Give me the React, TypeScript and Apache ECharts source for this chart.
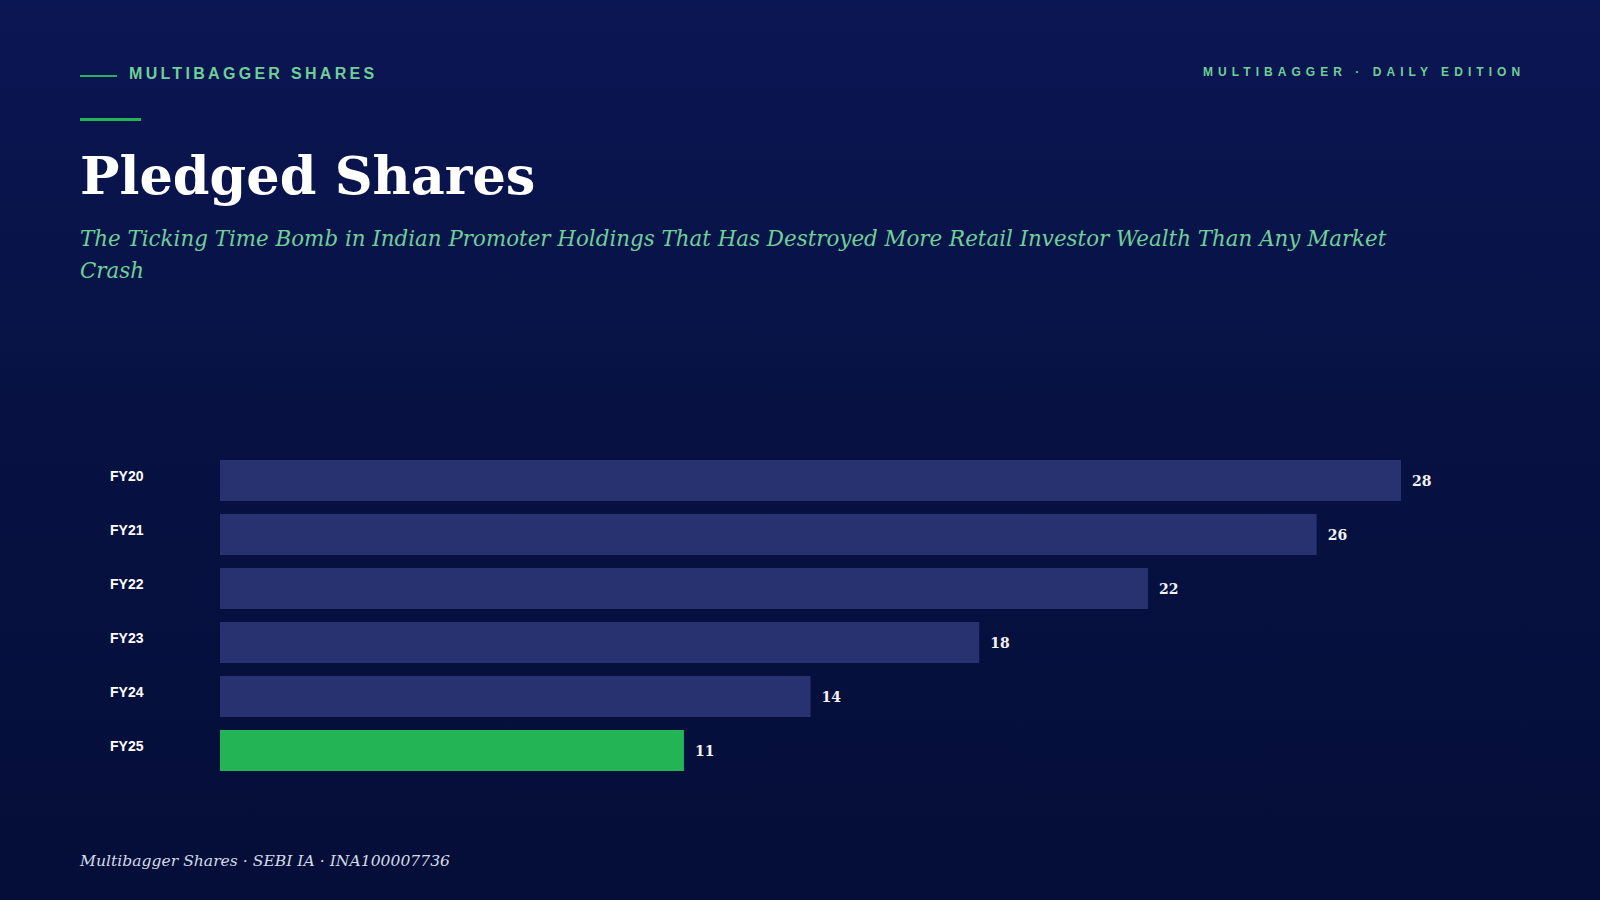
import React, { useEffect, useRef } from "react";
import * as echarts from "echarts";

const categories = ["FY20", "FY21", "FY22", "FY23", "FY24", "FY25"];
const pledgedValues = [28, 26, 22, 18, 14, 11];
const highlightCategory = "FY25";

const kickerText = "MULTIBAGGER SHARES";
const editionText = "MULTIBAGGER · DAILY EDITION";
const titleText = "Pledged Shares";
const subtitleText =
  "The Ticking Time Bomb in Indian Promoter Holdings That Has Destroyed More Retail Investor Wealth Than Any Market Crash";
const footerText = "Multibagger Shares · SEBI IA · INA100007736";

const SERIF = "'DejaVu Serif', Georgia, serif";
const SANS = "'Liberation Sans', Arial, Helvetica, sans-serif";

export default function App() {
  const ref = useRef<HTMLDivElement>(null);

  useEffect(() => {
    if (!ref.current) return;
    const chart = echarts.init(ref.current, null, { renderer: "svg", width: 1600, height: 900 });
    chart.setOption({
      animation: false,
      grid: { left: 220, top: 453.5, width: 1181, height: 324, containLabel: false },
      xAxis: { type: "value", min: 0, max: "dataMax", show: false },
      yAxis: {
        type: "category",
        data: categories,
        inverse: true,
        axisLine: { show: false },
        axisTick: { show: false },
        splitLine: { show: false },
        axisLabel: {
          align: "left",
          verticalAlign: "bottom",
          lineHeight: 10,
          margin: 110,
          color: "#ffffff",
          fontFamily: SANS,
          fontWeight: "bold",
          fontSize: 14,
        },
      },
      series: [
        {
          type: "bar",
          data: pledgedValues.map((v, i) => ({
            value: v,
            itemStyle: { color: categories[i] === highlightCategory ? "#22b455" : "#283270" },
          })),
          barCategoryGap: "24%",
          label: {
            show: true,
            position: "right",
            distance: 11,
            color: "#f2f2f2",
            fontFamily: SERIF,
            fontWeight: "bold",
            fontSize: 14,
          },
        },
      ],
      graphic: [
        { type: "rect", shape: { x: 80, y: 75, width: 37, height: 2 }, style: { fill: "#22b455" } },
        { type: "rect", shape: { x: 80, y: 118, width: 61, height: 3 }, style: { fill: "#22b455" } },
        {
          type: "text",
          x: 80,
          y: 175,
          style: {
            text: titleText,
            fill: "#ffffff",
            font: `bold 52.5px ${SERIF}`,
            verticalAlign: "middle",
            align: "left",
          },
        },
        {
          type: "text",
          x: 80,
          y: 222.8,
          style: {
            text: subtitleText,
            fill: "#6fcf97",
            font: `italic 21.4px ${SERIF}`,
            lineHeight: 32,
            width: 1330,
            overflow: "break",
            verticalAlign: "top",
            align: "left",
          },
        },
        {
          type: "text",
          x: 80,
          y: 861,
          style: {
            text: footerText,
            fill: "#d3dbe8",
            font: `italic 15.6px ${SERIF}`,
            verticalAlign: "middle",
            align: "left",
          },
        },
      ],
    });
    return () => chart.dispose();
  }, []);

  return (
    <div
      style={{
        position: "absolute",
        left: 0,
        top: 0,
        width: 1600,
        height: 900,
        overflow: "hidden",
        background: "linear-gradient(180deg, #0b1654 0%, #071243 45%, #050e38 100%)",
      }}
    >
      <div
        style={{
          position: "absolute",
          left: 129,
          top: 65.5,
          fontFamily: SANS,
          fontWeight: "bold",
          fontSize: 16,
          lineHeight: "16px",
          letterSpacing: "3.3px",
          color: "#6fcf97",
          whiteSpace: "nowrap",
        }}
      >
        {kickerText}
      </div>
      <div
        style={{
          position: "absolute",
          left: 1203,
          top: 65.8,
          fontFamily: SANS,
          fontWeight: "bold",
          fontSize: 12,
          lineHeight: "12px",
          letterSpacing: "5.05px",
          color: "#6fcf97",
          whiteSpace: "nowrap",
        }}
      >
        {editionText}
      </div>
      <div ref={ref} style={{ position: "absolute", left: 0, top: 0, width: 1600, height: 900 }} />
    </div>
  );
}
